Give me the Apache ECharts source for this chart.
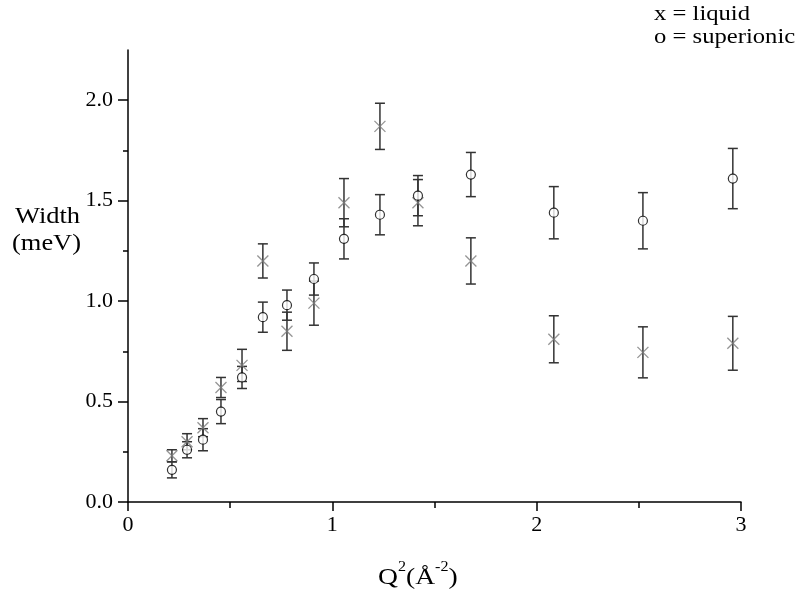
<!DOCTYPE html>
<html><head><meta charset="utf-8">
<script src="https://cdn.jsdelivr.net/npm/echarts@6/dist/echarts.min.js"></script>
<style>html,body{margin:0;padding:0;background:#fff}#c{width:801px;height:593px}</style>
</head><body><div id="c"></div>
<script>
const q2 = [0.215, 0.289, 0.367, 0.455, 0.558, 0.66, 0.778, 0.91, 1.057, 1.233, 1.419, 1.678, 2.084, 2.52, 2.96];
const liquid = [0.23, 0.30, 0.37, 0.57, 0.68, 1.20, 0.85, 0.99, 1.49, 1.87, 1.49, 1.20, 0.81, 0.745, 0.79];
const liquidErr = [0.03, 0.04, 0.045, 0.05, 0.08, 0.085, 0.095, 0.11, 0.12, 0.115, 0.115, 0.115, 0.117, 0.127, 0.134];
const superionic = [0.16, 0.26, 0.31, 0.45, 0.62, 0.92, 0.98, 1.11, 1.31, 1.43, 1.525, 1.63, 1.44, 1.40, 1.61];
const superErr = [0.04, 0.04, 0.055, 0.06, 0.055, 0.075, 0.075, 0.08, 0.1, 0.1, 0.1, 0.11, 0.13, 0.14, 0.15];
const yTicks = [0, 0.5, 1.0, 1.5, 2.0];
const xTicks = [0, 1, 2, 3];

const FONT = 'Liberation Serif';
const chart = echarts.init(document.getElementById('c'));

function errData(vals, errs) {
  return q2.map((x, i) => [x, vals[i] - errs[i], vals[i] + errs[i]]);
}
function errRender(params, api) {
  const x = api.value(0);
  const lo = api.coord([x, api.value(1)]);
  const hi = api.coord([x, api.value(2)]);
  const hw = 5;
  const st = { stroke: '#333', lineWidth: 1.5 };
  return {
    type: 'group',
    children: [
      { type: 'line', shape: { x1: lo[0], y1: lo[1], x2: hi[0], y2: hi[1] }, style: st },
      { type: 'line', shape: { x1: lo[0] - hw, y1: lo[1], x2: lo[0] + hw, y2: lo[1] }, style: st },
      { type: 'line', shape: { x1: hi[0] - hw, y1: hi[1], x2: hi[0] + hw, y2: hi[1] }, style: st }
    ]
  };
}

const axisLine = { show: true, lineStyle: { color: '#000', width: 1.5 } };

chart.setOption({
  animation: false,
  backgroundColor: '#fff',
  grid: { left: 128, right: 60, top: 50, bottom: 91 },
  xAxis: {
    type: 'value', min: 0, max: 3, interval: 1,
    axisLine: axisLine,
    axisTick: { show: true, length: 9, lineStyle: { color: '#000', width: 1.5 } },
    minorTick: { show: true, splitNumber: 2, length: 6, lineStyle: { color: '#000', width: 1.5 } },
    splitLine: { show: false },
    axisLabel: { color: '#000', fontFamily: FONT, fontSize: 22, margin: 12,
      customValues: xTicks, formatter: v => String(v) }
  },
  yAxis: {
    type: 'value', min: 0, max: 2.25, interval: 0.5,
    axisLine: axisLine,
    axisTick: { show: true, length: 10, customValues: yTicks, lineStyle: { color: '#000', width: 1.5 } },
    minorTick: { show: true, splitNumber: 2, length: 5, lineStyle: { color: '#000', width: 1.5 } },
    splitLine: { show: false },
    axisLabel: { color: '#000', fontFamily: FONT, fontSize: 22, margin: 15,
      customValues: yTicks, formatter: v => v.toFixed(1) }
  },
  series: [
    { type: 'custom', renderItem: errRender, data: errData(liquid, liquidErr), z: 1, silent: true },
    { type: 'custom', renderItem: errRender, data: errData(superionic, superErr), z: 1, silent: true },
    {
      type: 'scatter', name: 'liquid', z: 3,
      data: q2.map((x, i) => [x, liquid[i]]),
      symbol: 'path://M0,0L10,10M10,0L0,10', symbolSize: 11,
      itemStyle: { color: 'none', borderColor: '#7a7a7a', borderWidth: 1.3 }
    },
    {
      type: 'scatter', name: 'superionic', z: 4,
      data: q2.map((x, i) => [x, superionic[i]]),
      symbol: 'circle', symbolSize: 9,
      itemStyle: { color: '#fff', borderColor: '#000', borderWidth: 1.2 }
    }
  ],
  graphic: [
    { type: 'text', x: 654, y: 3, scaleX: 1.12, style: { text: 'x = liquid', font: '22px "Liberation Serif"', fill: '#000' } },
    { type: 'text', x: 654, y: 26, scaleX: 1.12, style: { text: 'o = superionic', font: '22px "Liberation Serif"', fill: '#000' } },
    { type: 'text', x: 15, y: 205, scaleX: 1.15, style: { text: 'Width', font: '23px "Liberation Serif"', fill: '#000' } },
    { type: 'text', x: 12, y: 232, scaleX: 1.15, style: { text: '(meV)', font: '23px "Liberation Serif"', fill: '#000' } },
    { type: 'text', x: 378, y: 560, scaleX: 1.15, style: {
        text: '{a|Q}{s|2}{a|(Å}{s|-2}{a|)}',
        rich: {
          a: { fontFamily: FONT, fontSize: 24, lineHeight: 30, fill: '#000', verticalAlign: 'bottom' },
          s: { fontFamily: FONT, fontSize: 14, lineHeight: 30, fill: '#000', verticalAlign: 'top' }
        }
    } }
  ]
});
</script>
</body></html>
